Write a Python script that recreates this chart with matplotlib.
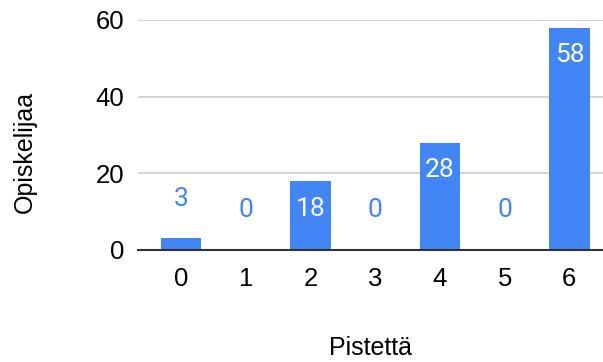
import matplotlib
matplotlib.use("Agg")
import matplotlib.pyplot as plt

# points scored and number of students
points = [0, 1, 2, 3, 4, 5, 6]
students = [3, 0, 18, 0, 28, 0, 58]
yticks = [0, 20, 40, 60]

blue = '#4285F4'

fig = plt.figure(figsize=(6.03, 3.62), dpi=100)
ax = fig.add_axes([0.229, 0.3094, 0.771, 0.6354])

ax.bar(points, students, width=0.63, color=blue, zorder=3)

ax.set_xlim(-0.665, 6.52)
ax.set_ylim(0, 60)
ax.set_yticks(yticks)
ax.set_xticks(points)
ax.set_yticklabels([str(t) for t in yticks], family='Liberation Sans', fontsize=18.5)
ax.set_xticklabels([str(p) for p in points], family='Liberation Sans', fontsize=18.5)
ax.tick_params(length=0, pad=10)
ax.tick_params(axis='x', pad=12)

ax.grid(axis='y', color='#cccccc', linewidth=1.2, zorder=0)
for side in ['top', 'right', 'left']:
    ax.spines[side].set_visible(False)
ax.spines['bottom'].set_color('#333333')
ax.spines['bottom'].set_linewidth(1.5)
ax.spines['bottom'].set_zorder(4)

# value labels: small bars get a blue label above, tall bars a white one inside
for x, v in zip(points, students):
    if v < 10:
        ax.annotate(str(v), (x, v), xytext=(0, 28.5), textcoords='offset points',
                    ha='center', va='center', color=blue, fontsize=19,
                    family='Roboto', zorder=5)
    else:
        ax.annotate(str(v), (x, v), xytext=(0, -20), textcoords='offset points',
                    ha='center', va='center', color='white', fontsize=19,
                    family='Roboto', zorder=5)

fig.text(0.0415, 0.58, 'Opiskelijaa', rotation=90, ha='center', va='center',
         family='Liberation Sans', fontsize=18)
fig.text(0.615, 0.04, 'Pistettä', ha='center', va='center',
         family='Liberation Sans', fontsize=18)

fig.savefig('out.png', dpi=100)
